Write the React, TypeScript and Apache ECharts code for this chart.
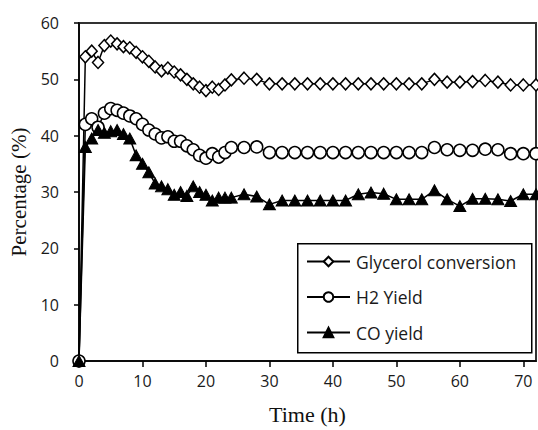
import React, { useEffect, useRef } from "react";
import * as echarts from "echarts";

// Time on stream (h): hourly for the first day, then every two hours
const timeH = [
  0, 1, 2, 3, 4, 5, 6, 7, 8, 9, 10, 11, 12, 13, 14, 15, 16, 17, 18, 19, 20, 21, 22, 23, 24,
  26, 28, 30, 32, 34, 36, 38, 40, 42, 44, 46, 48, 50, 52, 54, 56, 58, 60, 62, 64, 66, 68, 70, 72,
];

const glycerolConversion = [
  0, 54, 55, 53, 56, 56.8, 56.3, 55.8, 55.6, 54.8, 54, 53.2, 52.2, 51.5, 52, 51.3, 50.8, 50, 49.2, 48.6, 48, 48.6, 48.2, 49, 49.9,
  50.2, 50, 49.2, 49.2, 49.2, 49.2, 49.2, 49.2, 49.2, 49.2, 49.2, 49.2, 49.2, 49.2, 49.2, 50, 49.5, 49.5, 49.6, 49.8, 49.5, 49, 49, 49,
];

const h2Yield = [
  0, 42, 43, 41.5, 44, 44.8, 44.5, 44, 43.5, 43, 42, 41, 40.3, 39.6, 39.8, 39, 39, 38.2, 37.5, 36.5, 36, 36.8, 36.2, 37, 37.9,
  37.9, 38, 37, 37, 37, 37, 37, 37, 37, 37, 37, 37, 37, 37, 37, 37.9, 37.5, 37.4, 37.4, 37.6, 37.5, 36.8, 36.8, 36.8,
];

const coYield = [
  0, 38, 39.5, 41, 40.5, 40.8, 41, 40.3, 39.5, 36.5, 35, 33.5, 31.5, 31, 30.5, 29.5, 30, 29.3, 31, 30, 29.5, 28.5, 29, 29, 29,
  29.6, 29.2, 27.8, 28.5, 28.5, 28.5, 28.5, 28.5, 28.5, 29.6, 29.9, 29.7, 28.7, 28.7, 28.7, 30.3, 28.7, 27.5, 28.8, 28.8, 28.7, 28.4, 29.6, 29.6,
];

const seriesNames = ["Glycerol conversion", "H2 Yield", "CO yield"];

const pairs = (ys: number[]) => timeH.map((t, i) => [t, ys[i]]);

export default function App() {
  const ref = useRef<HTMLDivElement>(null);

  useEffect(() => {
    if (!ref.current) return;
    const chart = echarts.init(ref.current, null, { renderer: "svg" });
    const sans = "'Open Sans', 'Noto Sans', sans-serif";
    const serif = "'Liberation Serif', 'DejaVu Serif', serif";

    const lineBase = {
      type: "line" as const,
      showSymbol: true,
      lineStyle: { color: "#000", width: 1.5 },
      z: 3,
    };

    chart.setOption({
      animation: false,
      backgroundColor: "#fff",
      grid: {
        left: 79,
        top: 23,
        right: 2,
        bottom: 67,
        show: true,
        borderColor: "#333",
        borderWidth: 2,
        backgroundColor: "transparent",
      },
      xAxis: {
        type: "value",
        min: 0,
        max: 72,
        interval: 10,
        name: "Time (h)",
        nameLocation: "middle",
        nameGap: 42,
        nameTextStyle: { fontFamily: serif, fontSize: 22, fontWeight: "normal", color: "#111" },
        axisLine: { show: true, lineStyle: { color: "#000", width: 1.5 } },
        axisTick: { show: true, inside: false, length: 6, lineStyle: { color: "#000", width: 1.5 } },
        axisLabel: { showMaxLabel: false, margin: 12, fontFamily: sans, fontSize: 16, color: "#1a1a1a" },
        splitLine: { show: false },
      },
      yAxis: {
        type: "value",
        min: 0,
        max: 60,
        interval: 10,
        name: "Percentage (%)",
        nameLocation: "middle",
        nameGap: 50,
        nameTextStyle: { fontFamily: serif, fontSize: 21, fontWeight: "normal", color: "#111" },
        axisLine: { show: true, lineStyle: { color: "#000", width: 1.5 } },
        axisTick: { show: true, inside: false, length: 5, lineStyle: { color: "#000", width: 1.5 } },
        axisLabel: { margin: 20, fontFamily: sans, fontSize: 16, color: "#1a1a1a" },
        splitLine: { show: false },
      },
      legend: {
        orient: "vertical",
        left: 306,
        top: 251,
        itemWidth: 43,
        itemHeight: 12,
        itemGap: 14.5,
        padding: 0,
        data: seriesNames,
        textStyle: { fontFamily: sans, fontSize: 17.5, color: "#1a1a1a", lineHeight: 21, padding: [0, 0, 0, 1] },
      },
      graphic: [
        {
          type: "rect",
          left: 297,
          top: 243,
          shape: { width: 234, height: 109 },
          style: { fill: "#fff", stroke: "#000", lineWidth: 1.5 },
          z: 1,
        },
      ],
      series: [
        {
          ...lineBase,
          name: seriesNames[0],
          data: pairs(glycerolConversion),
          symbol: "diamond",
          symbolSize: [11, 12],
          itemStyle: { color: "#fff", borderColor: "#000", borderWidth: 1.5 },
        },
        {
          ...lineBase,
          name: seriesNames[1],
          data: pairs(h2Yield),
          symbol: "circle",
          symbolSize: 12,
          itemStyle: { color: "#fff", borderColor: "#000", borderWidth: 1.5 },
        },
        {
          ...lineBase,
          name: seriesNames[2],
          data: pairs(coYield),
          symbol: "triangle",
          symbolSize: [12, 11],
          itemStyle: { color: "#000", borderColor: "#000", borderWidth: 1 },
        },
      ],
    });

    return () => chart.dispose();
  }, []);

  return (
    <div
      ref={ref}
      style={{ position: "fixed", left: 0, top: 0, width: 538, height: 430, background: "#fff" }}
    />
  );
}
